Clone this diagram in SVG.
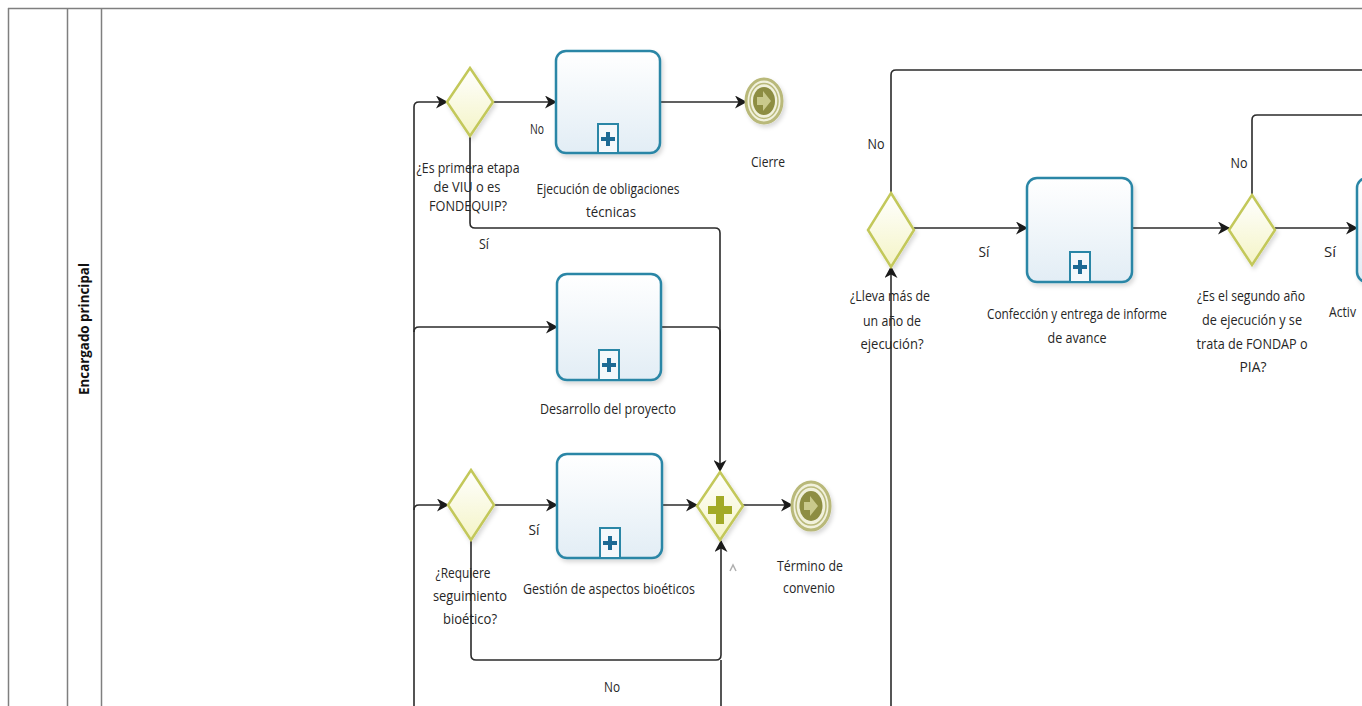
<svg xmlns="http://www.w3.org/2000/svg" width="1362" height="706" viewBox="0 0 1362 706">
<style>
.lbl{font-family:"Open Sans","Liberation Sans",sans-serif;font-size:15px;fill:#262626;text-anchor:middle}
.lane{font-family:"Open Sans","Liberation Sans",sans-serif;font-size:13.5px;font-weight:bold;fill:#111;text-anchor:middle}
.pool{fill:none;stroke:#7f7f7f;stroke-width:1.5}
.conn{fill:none;stroke:#2b2b2b;stroke-width:1.6}
.arr{marker-end:url(#ah)}
.task{fill:url(#tg);stroke:#2a86a6;stroke-width:2.5;filter:url(#sh)}
.mk{fill:#f4f8fb;stroke:#2a86a6;stroke-width:2}
.mkp{fill:#1d6a94}
.gw{fill:url(#gg);stroke:#c3c85a;stroke-width:2.5;filter:url(#sh)}
.ev1{fill:#f1f1dc;stroke:#b9b97a;stroke-width:3;filter:url(#sh)}
.ev2{fill:none;stroke:#b9b97a;stroke-width:1.5}
.ev3{fill:#8d8d42}
.eva{fill:#c9c98c}
</style>
<defs>
<linearGradient id="tg" x1="0" y1="0" x2="0" y2="1"><stop offset="0" stop-color="#ffffff"/><stop offset="1" stop-color="#e2edf5"/></linearGradient>
<linearGradient id="gg" x1="0" y1="0" x2="0" y2="1"><stop offset="0" stop-color="#ffffff"/><stop offset="1" stop-color="#f4f4c6"/></linearGradient>
<filter id="sh" x="-20%" y="-20%" width="150%" height="150%"><feDropShadow dx="2" dy="3" stdDeviation="2" flood-color="#000" flood-opacity="0.15"/></filter>
<marker id="ah" viewBox="0 0 12 13" refX="11" refY="6.5" markerWidth="12" markerHeight="13" markerUnits="userSpaceOnUse" orient="auto"><path d="M0,0 L12,6.5 L0,13 L3.5,6.5 z" fill="#1a1a1a"/></marker>
</defs>
<rect width="1362" height="706" fill="#ffffff"/>

<g id="pool">
<line class="pool" x1="8" y1="8.5" x2="1362" y2="8.5" stroke-width="2"/>
<line class="pool" x1="8.5" y1="8" x2="8.5" y2="706"/>
<line class="pool" x1="67.5" y1="8" x2="67.5" y2="706"/>
<line class="pool" x1="101.5" y1="8" x2="101.5" y2="706"/>
<text class="lane" transform="translate(89,329) rotate(-90)" textLength="132" lengthAdjust="spacingAndGlyphs">Encargado principal</text>
</g>

<g id="connectors">
<path class="conn arr" d="M414,706 V107 Q414,102 419,102 H447"/>
<path class="conn arr" d="M414,332 Q414,327 419,327 H557"/>
<path class="conn arr" d="M414,510 Q414,505 419,505 H448"/>
<path class="conn arr" d="M493,102 H556"/>
<path class="conn arr" d="M660,102 H746"/>
<path class="conn arr" d="M470,137 V223 Q470,228 475,228 H715 Q720,228 720,233 V471"/>
<path class="conn" d="M661,327 H715 Q720,327 720,332 V420"/>
<path class="conn arr" d="M494,505 H557"/>
<path class="conn arr" d="M662,505 H697"/>
<path class="conn arr" d="M743,505 H792"/>
<path class="conn arr" d="M471,540 V655 Q471,660 476,660 H716 Q721,660 721,655 V541"/>
<path class="conn" d="M721,706 V660"/>
<path class="conn arr" d="M914,228 H1027"/>
<path class="conn arr" d="M1132,228 H1229"/>
<path class="conn arr" d="M1275,228 H1357"/>
<path class="conn" d="M891,193 V75 Q891,70 896,70 H1362"/>
<path class="conn" d="M1252,195 V120 Q1252,115 1257,115 H1362"/>
<path class="conn arr" d="M891,706 V267"/>
<path d="M730,571 L733,565 L736,571" fill="none" stroke="#b0b0b0" stroke-width="1.5"/>
<text class="lbl" x="537" y="134" textLength="14" lengthAdjust="spacingAndGlyphs">No</text>
<text class="lbl" x="484" y="249" textLength="10" lengthAdjust="spacingAndGlyphs">Sí</text>
<text class="lbl" x="534" y="535" textLength="11" lengthAdjust="spacingAndGlyphs">Sí</text>
<text class="lbl" x="612" y="692" textLength="16" lengthAdjust="spacingAndGlyphs">No</text>
<text class="lbl" x="876" y="149" textLength="17" lengthAdjust="spacingAndGlyphs">No</text>
<text class="lbl" x="984" y="257" textLength="11" lengthAdjust="spacingAndGlyphs">Sí</text>
<text class="lbl" x="1239" y="168" textLength="17" lengthAdjust="spacingAndGlyphs">No</text>
<text class="lbl" x="1330" y="257" textLength="12" lengthAdjust="spacingAndGlyphs">Sí</text>
</g>

<g id="g1">
<polygon class="gw" points="470,68 493,102 470,136 447,102"/>
<text class="lbl" x="468" y="173" textLength="103" lengthAdjust="spacingAndGlyphs">¿Es primera etapa</text>
<text class="lbl" x="467" y="192" textLength="67" lengthAdjust="spacingAndGlyphs">de VIU o es</text>
<text class="lbl" x="468" y="211" textLength="78" lengthAdjust="spacingAndGlyphs">FONDEQUIP?</text>
</g>

<g id="t1">
<rect class="task" x="556" y="51" width="104" height="102" rx="10"/>
<rect class="mk" x="598" y="124" width="20" height="29"/>
<path class="mkp" d="M606,132 h4 v5 h5 v4 h-5 v5 h-4 v-5 h-5 v-4 h5 z"/>
<text class="lbl" x="608" y="194" textLength="143" lengthAdjust="spacingAndGlyphs">Ejecución de obligaciones</text>
<text class="lbl" x="611" y="217" textLength="50" lengthAdjust="spacingAndGlyphs">técnicas</text>
</g>

<g id="cierre">
<ellipse class="ev1" cx="764" cy="101" rx="18" ry="22"/>
<ellipse class="ev2" cx="764" cy="101" rx="14" ry="17.5"/>
<ellipse class="ev3" cx="764" cy="101" rx="11" ry="14"/>
<path class="eva" d="M757,97 h6 v-6 l8,10 l-8,10 v-6 h-6 z"/>
<text class="lbl" x="768" y="167" textLength="34" lengthAdjust="spacingAndGlyphs">Cierre</text>
</g>

<g id="t2">
<rect class="task" x="557" y="274" width="104" height="106" rx="10"/>
<rect class="mk" x="599" y="350" width="20" height="30"/>
<path class="mkp" d="M607,358 h4 v5 h5 v4 h-5 v5 h-4 v-5 h-5 v-4 h5 z"/>
<text class="lbl" x="608" y="414" textLength="136" lengthAdjust="spacingAndGlyphs">Desarrollo del proyecto</text>
</g>

<g id="g2">
<polygon class="gw" points="471,470 494,505 471,540 448,505"/>
<text class="lbl" x="463" y="578" textLength="55" lengthAdjust="spacingAndGlyphs">¿Requiere</text>
<text class="lbl" x="470" y="601" textLength="74" lengthAdjust="spacingAndGlyphs">seguimiento</text>
<text class="lbl" x="470" y="624" textLength="54" lengthAdjust="spacingAndGlyphs">bioético?</text>
</g>

<g id="t3">
<rect class="task" x="557" y="454" width="105" height="104" rx="10"/>
<rect class="mk" x="600" y="528" width="20" height="30"/>
<path class="mkp" d="M608,536 h4 v5 h5 v4 h-5 v5 h-4 v-5 h-5 v-4 h5 z"/>
<text class="lbl" x="609" y="594" textLength="172" lengthAdjust="spacingAndGlyphs">Gestión de aspectos bioéticos</text>
</g>

<g id="join">
<polygon class="gw" points="720,472 743,506 720,540 697,506"/>
<path d="M716,496 h8 v10 h8 v8 h-8 v10 h-8 v-10 h-8 v-8 h8 z" fill="#a2aa26"/>
</g>

<g id="termino">
<ellipse class="ev1" cx="811" cy="506" rx="19" ry="24"/>
<ellipse class="ev2" cx="811" cy="506" rx="15" ry="19"/>
<ellipse class="ev3" cx="811" cy="506" rx="11.5" ry="15"/>
<path class="eva" d="M804,502 h6 v-6 l8,10 l-8,10 v-6 h-6 z"/>
<text class="lbl" x="810" y="571" textLength="66" lengthAdjust="spacingAndGlyphs">Término de</text>
<text class="lbl" x="809" y="593" textLength="52" lengthAdjust="spacingAndGlyphs">convenio</text>
</g>

<g id="g3">
<polygon class="gw" points="891,193 914,230 891,267 868,230"/>
<text class="lbl" x="890" y="301" textLength="80" lengthAdjust="spacingAndGlyphs">¿Lleva más de</text>
<text class="lbl" x="892" y="326" textLength="58" lengthAdjust="spacingAndGlyphs">un año de</text>
<text class="lbl" x="892" y="349" textLength="63" lengthAdjust="spacingAndGlyphs">ejecución?</text>
</g>

<g id="t4">
<rect class="task" x="1027" y="178" width="105" height="104" rx="10"/>
<rect class="mk" x="1070" y="252" width="20" height="30"/>
<path class="mkp" d="M1078,260 h4 v5 h5 v4 h-5 v5 h-4 v-5 h-5 v-4 h5 z"/>
<text class="lbl" x="1077" y="319" textLength="180" lengthAdjust="spacingAndGlyphs">Confección y entrega de informe</text>
<text class="lbl" x="1077" y="343" textLength="59" lengthAdjust="spacingAndGlyphs">de avance</text>
</g>

<g id="g4">
<polygon class="gw" points="1252,195 1275,230 1252,265 1229,230"/>
<text class="lbl" x="1251" y="301" textLength="108" lengthAdjust="spacingAndGlyphs">¿Es el segundo año</text>
<text class="lbl" x="1252" y="325" textLength="100" lengthAdjust="spacingAndGlyphs">de ejecución y se</text>
<text class="lbl" x="1252" y="349" textLength="111" lengthAdjust="spacingAndGlyphs">trata de FONDAP o</text>
<text class="lbl" x="1253" y="372" textLength="27" lengthAdjust="spacingAndGlyphs">PIA?</text>
</g>

<g id="t5">
<rect class="task" x="1357" y="178" width="105" height="104" rx="10"/>
<text class="lbl" x="1329" y="317" style="text-anchor:start" textLength="27" lengthAdjust="spacingAndGlyphs">Activ</text>
</g>
</svg>
